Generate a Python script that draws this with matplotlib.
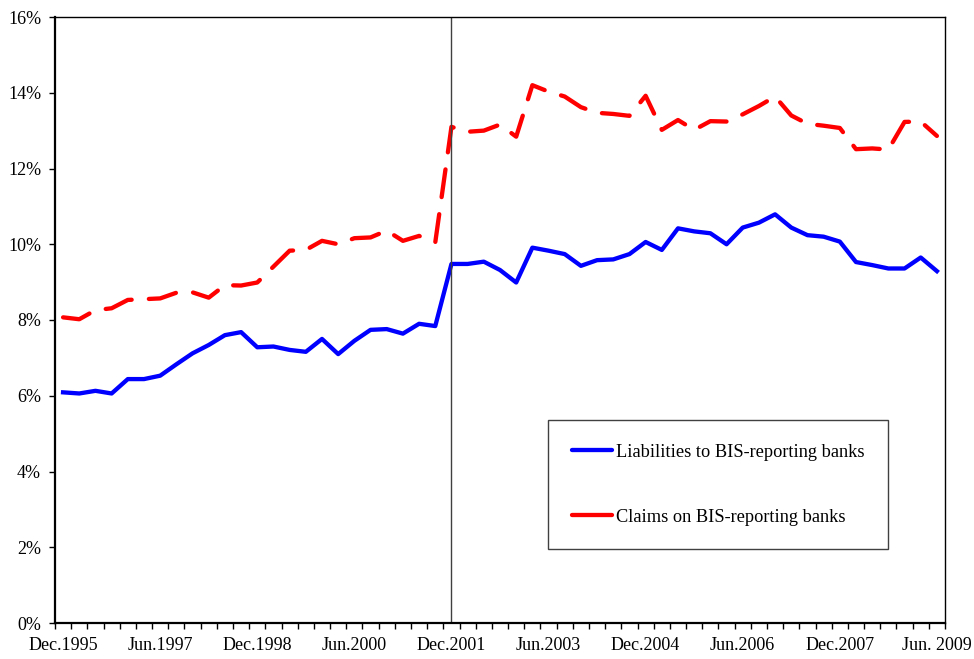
import matplotlib
matplotlib.use('Agg')
import matplotlib.pyplot as plt
from matplotlib.lines import Line2D

plt.rcParams['font.family'] = ['Liberation Serif', 'DejaVu Serif']
plt.rcParams['font.size'] = 13

# kwartalne dane: Dec.1995 ... Jun.2009 (55 punktow)
tick_labels = ['Dec.1995', 'Jun.1997', 'Dec.1998', 'Jun.2000', 'Dec.2001',
               'Jun.2003', 'Dec.2004', 'Jun.2006', 'Dec.2007', 'Jun. 2009']

liabilities = [6.09, 6.06, 6.13, 6.06, 6.44, 6.44, 6.53, 6.83, 7.12, 7.34,
               7.60, 7.68, 7.28, 7.30, 7.21, 7.16, 7.50, 7.10, 7.45, 7.74,
               7.76, 7.64, 7.90, 7.84, 9.48, 9.48, 9.54, 9.32, 8.99, 9.91,
               9.83, 9.74, 9.43, 9.58, 9.60, 9.74, 10.06, 9.85, 10.42, 10.34,
               10.29, 10.00, 10.44, 10.57, 10.79, 10.44, 10.24, 10.20, 10.07, 9.53,
               9.45, 9.36, 9.36, 9.65, 9.29]

claims = [8.07, 8.02, 8.26, 8.31, 8.53, 8.55, 8.57, 8.72, 8.73, 8.59,
          8.92, 8.91, 8.99, 9.41, 9.83, 9.85, 10.09, 10.00, 10.16, 10.18,
          10.36, 10.09, 10.22, 10.05, 13.10, 12.97, 13.00, 13.16, 12.84, 14.20,
          14.03, 13.90, 13.62, 13.47, 13.44, 13.39, 13.92, 13.02, 13.28, 13.02,
          13.25, 13.24, 13.43, 13.65, 13.90, 13.40, 13.18, 13.13, 13.07, 12.51,
          12.53, 12.50, 13.23, 13.24, 12.86]

x = list(range(len(liabilities)))

fig = plt.figure(figsize=(9.74, 6.59), dpi=100)
ax = fig.add_axes([55 / 974, 36 / 659, 890 / 974, 606 / 659])

ax.plot(x, liabilities, color='#0000FF', lw=3.1, solid_joinstyle='round')
ax.plot(x, claims, color='#FF0000', lw=3.1, dashes=(6.5, 4),
        dash_capstyle='round', dash_joinstyle='round')
ax.axvline(24, color='#404040', lw=1)

ax.set_xlim(-0.5, len(x) - 0.5)
ax.set_ylim(0, 16)
ax.set_yticks(range(0, 17, 2))
ax.set_yticklabels(['%d%%' % v for v in range(0, 17, 2)])
ax.set_xticks(list(range(0, len(x), 6)))
ax.set_xticklabels(tick_labels)
ax.set_xticks([i - 0.5 for i in range(len(x) + 1)], minor=True)
ax.tick_params(axis='x', which='major', length=0, pad=10)
ax.tick_params(axis='x', which='minor', direction='out', length=4, width=1)
ax.tick_params(axis='y', direction='out', length=4, width=1, pad=6)

for side in ['left', 'bottom']:
    ax.spines[side].set_linewidth(1.6)
for side in ['top', 'right']:
    ax.spines[side].set_linewidth(1.0)

handles = [Line2D([], [], color='#0000FF', lw=3.1, solid_capstyle='round'),
           Line2D([], [], color='#FF0000', lw=3.1, solid_capstyle='round')]
leg = ax.legend(handles, ['Liabilities to BIS-reporting banks', 'Claims on BIS-reporting banks'],
                loc='upper left', bbox_to_anchor=(493 / 890, 203 / 606),
                fontsize=13.2, handlelength=2.2, handletextpad=0.2,
                labelspacing=2.6, borderpad=1.3, frameon=True, fancybox=False,
                framealpha=1, edgecolor='#404040', borderaxespad=0)
leg.get_frame().set_linewidth(1.0)

plt.savefig('out.png', dpi=100)
